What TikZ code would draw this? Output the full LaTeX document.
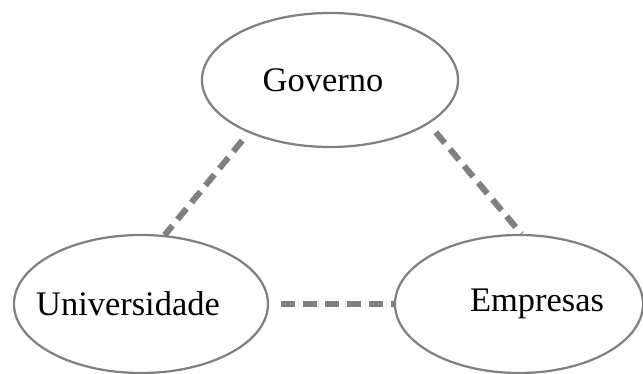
\documentclass[tikz,border=0pt]{standalone}
\usepackage{fontspec}
\setmainfont{Liberation Serif}
\usepackage{xcolor}
\usepackage{tikz}
\usetikzlibrary{shapes.geometric, positioning}
\definecolor{tgray}{RGB}{128,128,128}

\begin{document}
\begin{tikzpicture}[
    x=0.03cm, y=-0.03cm,
    blob/.style={ellipse, draw=tgray, line width=1.9pt, inner sep=0pt},
    txt/.style={font=\fontsize{29.4}{35}\selectfont},
    link/.style={draw=tgray, line width=5.2pt, dash pattern=on 0.42cm off 0.24cm}
]
\useasboundingbox (0,0) rectangle (643,374);

% the three spheres
\node[blob, minimum width=7.68cm, minimum height=4.02cm] (gov) at (330,80) {};
\node[blob, minimum width=7.62cm, minimum height=4.14cm] (uni) at (141,304) {};
\node[blob, minimum width=7.44cm, minimum height=4.14cm] (emp) at (519,304) {};

% labels
\node[txt] (govtxt) at (323,80) {Governo};
\node[txt] (unitxt) at (128,304) {Universidade};
\node[txt] (emptxt) at (537,304) {Empresas};

% dashed links
\draw[link, shorten <=0.3cm] (gov.213) -- (uni.71);
\draw[link, shorten <=0.33cm] (gov.336) -- (emp.88);
\draw[link, shorten <=0.36cm] (uni.east) -- (emp.west);

\end{tikzpicture}
\end{document}
